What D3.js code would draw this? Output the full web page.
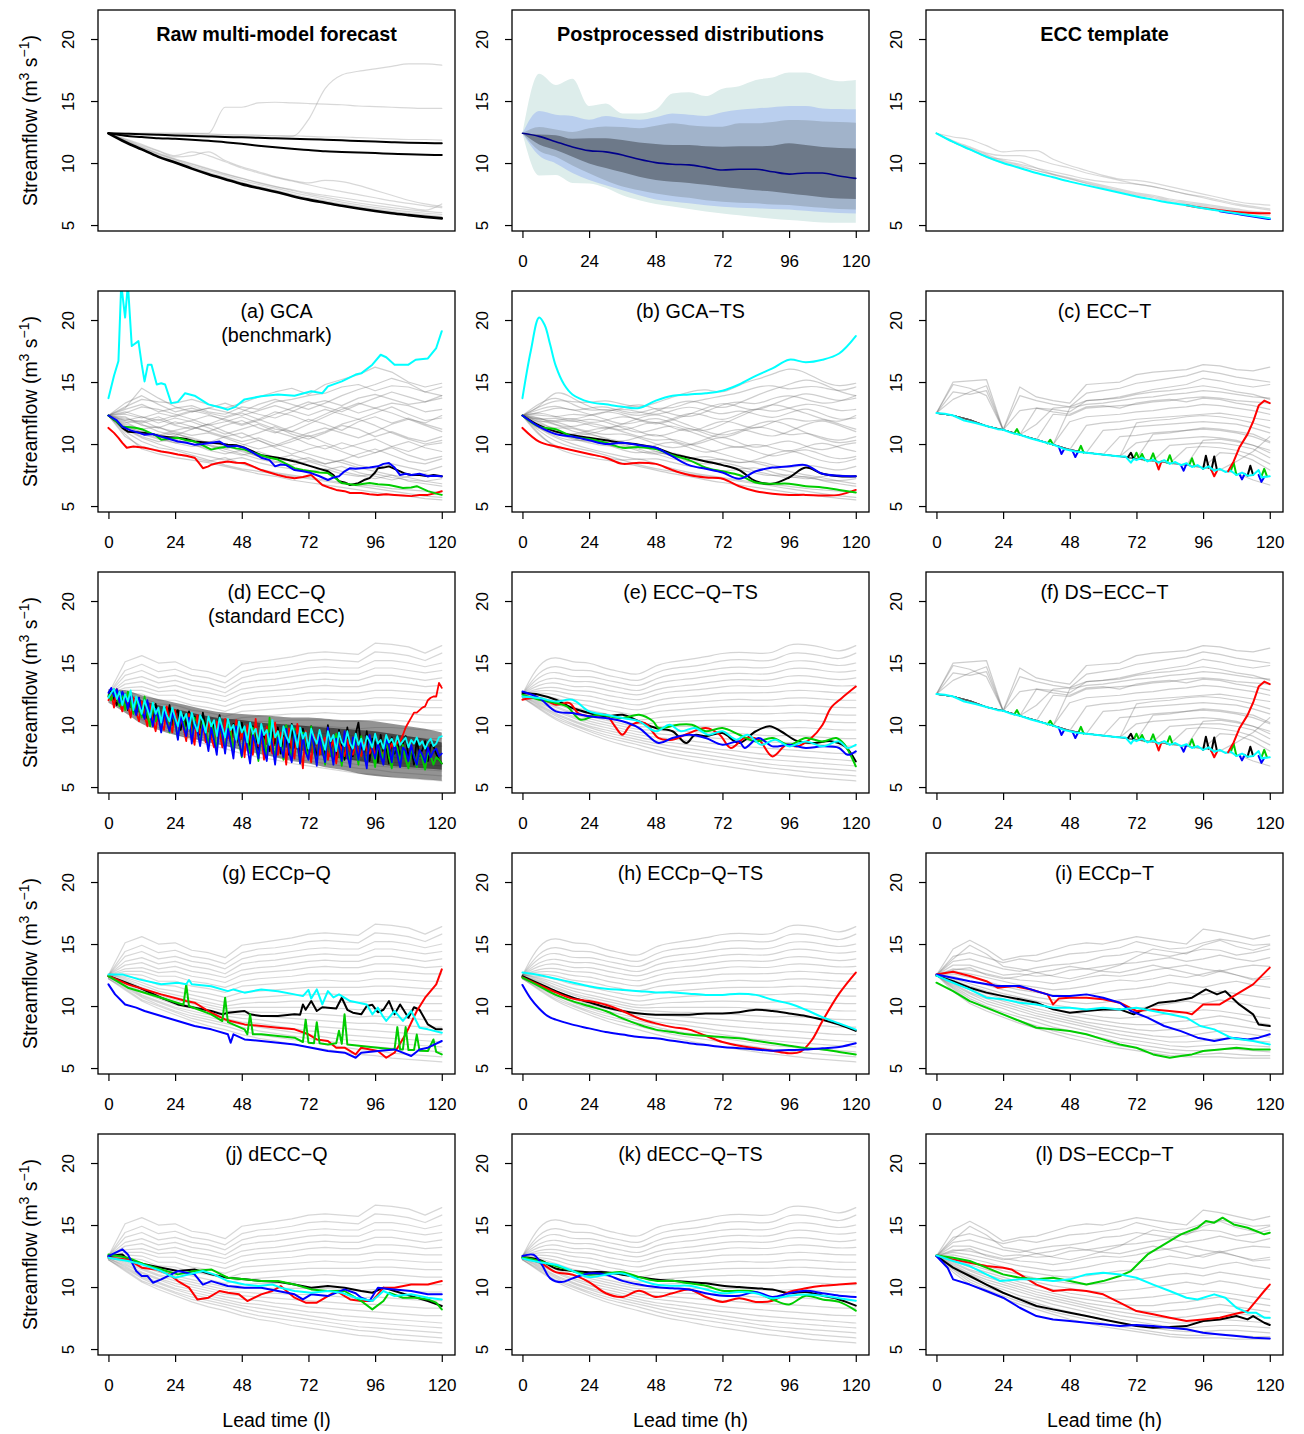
<!DOCTYPE html>
<html>
<head>
<meta charset="utf-8">
<script src="https://cdn.jsdelivr.net/npm/d3@7/dist/d3.min.js"></script>
<style>
html,body{margin:0;padding:0;background:#fff;}
svg text{font-family:"Liberation Sans", Arial, Helvetica, sans-serif;}
</style>
</head>
<body>
<svg id="chart" width="1304" height="1434"></svg>
<script>
// ---------------- lead-time grids & ticks ----------------
const leadTimes6 = [0,6,12,18,24,30,36,42,48,54,60,66,72,78,84,90,96,102,108,114,120];
const leadTimes1 = [0,1,2,3,4,5,6,7,8,9,10,11,12,13,14,15,16,17,18,19,20,21,22,23,24,25,26,27,28,29,30,31,32,33,34,35,36,37,38,39,40,41,42,43,44,45,46,47,48,49,50,51,52,53,54,55,56,57,58,59,60,61,62,63,64,65,66,67,68,69,70,71,72,73,74,75,76,77,78,79,80,81,82,83,84,85,86,87,88,89,90,91,92,93,94,95,96,97,98,99,100,101,102,103,104,105,106,107,108,109,110,111,112,113,114,115,116,117,118,119,120];
const xTickValues = [0,24,48,72,96,120];
const yTickValues = [5,10,15,20];

// ---------------- Raw multi-model forecast ----------------
const rawBlack = [
 [12.4,12.37,12.33,12.28,12.22,12.18,12.14,12.1,12.07,12.03,12.0,11.96,11.92,11.88,11.83,11.78,11.73,11.68,11.64,11.61,11.59],
 [12.4,12.2,12.1,12.0,11.95,11.88,11.8,11.68,11.55,11.4,11.27,11.15,11.05,10.95,10.9,10.85,10.8,10.75,10.7,10.67,10.65],
 [12.4,11.7,11.1,10.5,10.05,9.55,9.1,8.7,8.3,7.98,7.68,7.35,7.05,6.8,6.55,6.33,6.13,5.95,5.8,5.66,5.54]
];
const rawGray = [
 [12.4,12.4,12.4,12.4,12.4,12.4,12.35,12.3,12.3,12.25,12.2,12.2,12.15,12.1,12.1,12.05,12.0,11.95,11.9,11.9,11.85],
 [12.4,12.35,12.3,12.3,12.3,12.3,12.25,12.25,12.2,12.2,12.2,12.15,13.5,16.0,17.1,17.4,17.6,17.8,18.0,18.0,17.9],
 [12.4,12.4,12.4,12.4,12.4,12.4,12.4,14.5,14.5,14.85,14.9,14.85,14.8,14.75,14.7,14.6,14.55,14.5,14.45,14.4,14.4],
 [12.4,11.75,11.15,10.6,10.15,9.7,9.25,8.85,8.45,8.12,7.82,7.5,7.2,6.95,6.7,6.48,6.28,6.1,5.95,5.82,5.7],
 [12.4,11.8,11.2,10.7,10.25,9.8,9.4,9.0,8.6,8.28,7.98,7.66,7.36,7.1,6.85,6.62,6.42,6.24,6.08,5.95,5.85],
 [12.4,11.85,11.3,10.8,10.35,9.95,9.55,9.15,8.78,8.44,8.12,7.8,7.5,7.25,7.0,6.78,6.58,6.4,6.24,6.1,6.0],
 [12.4,11.9,11.4,10.95,10.5,10.6,10.9,10.2,9.7,9.3,8.9,8.6,8.4,8.6,8.5,8.2,7.8,7.4,7.0,6.7,6.5],
 [12.4,11.95,11.5,11.0,10.6,10.9,10.6,10.1,9.6,9.2,8.85,8.55,8.25,7.95,7.7,7.45,7.2,6.95,6.75,6.55,6.4],
 [12.4,11.8,11.25,10.75,10.3,9.9,9.5,9.1,8.75,8.4,8.1,7.85,7.6,7.4,7.2,7.0,6.8,6.6,6.4,6.2,6.7],
 [12.4,11.72,11.12,10.55,10.1,9.62,9.18,8.78,8.38,8.05,7.75,7.42,7.12,6.87,6.62,6.4,6.2,6.02,5.87,5.74,5.62]
];

// ---------------- Postprocessed distributions (quantile bands) ----------------
const ppOuterHi = [12.4,17.2,16.3,16.8,14.6,14.8,14.0,14.0,14.3,15.6,15.7,15.4,16.0,16.2,16.7,16.9,17.3,17.3,16.9,16.6,16.7];
const ppBlueHi  = [12.4,14.2,13.9,13.8,13.5,13.8,13.6,13.5,13.7,14.0,13.9,13.8,14.1,14.3,14.4,14.5,14.6,14.6,14.4,14.35,14.33];
const ppSlateHi = [12.4,12.9,12.7,12.5,12.8,12.95,12.9,12.8,13.0,13.2,13.05,12.95,12.93,13.2,13.2,13.3,13.47,13.45,13.35,13.3,13.25];
const ppDarkHi  = [12.4,12.3,12.25,11.95,12.0,12.0,11.85,11.65,11.53,11.45,11.45,11.35,11.32,11.35,11.35,11.4,11.59,11.45,11.3,11.22,11.18];
const ppMedian  = [12.4,12.15,11.72,11.3,11.0,10.9,10.65,10.3,10.03,9.9,9.85,9.65,9.44,9.5,9.5,9.3,9.11,9.2,9.2,8.95,8.76];
const ppDarkLo  = [12.4,11.5,11.05,10.5,9.97,9.6,9.25,8.9,8.63,8.5,8.4,8.25,8.09,7.95,7.8,7.7,7.55,7.4,7.25,7.15,7.1];
const ppSlateLo = [12.4,11.0,10.51,9.8,9.17,8.6,8.1,7.8,7.55,7.35,7.2,7.0,6.88,6.8,6.75,6.65,6.61,6.5,6.4,6.3,6.26];
const ppBlueLo  = [12.4,10.6,9.97,9.2,8.63,8.2,7.8,7.4,7.07,6.9,6.75,6.6,6.48,6.4,6.35,6.3,6.26,6.15,6.05,5.98,5.94];
const ppOuterLo = [12.4,9.0,9.03,8.4,8.36,8.0,7.4,7.0,6.69,6.5,6.3,6.1,5.94,5.8,5.65,5.5,5.4,5.3,5.2,5.18,5.19];

// ---------------- ECC template ----------------
const templateGray = [
 [12.4,12.1,11.9,11.4,10.9,11.0,11.0,10.3,9.8,9.4,9.0,8.7,8.6,8.4,8.1,7.8,7.5,7.2,6.9,6.7,6.6],
 [12.4,11.8,11.3,10.8,10.6,10.6,10.3,9.9,9.6,9.2,8.9,8.6,8.3,8.1,7.8,7.5,7.3,7.0,6.7,6.5,6.3],
 [12.4,11.7,11.2,10.7,10.2,9.9,9.6,9.3,9.0,8.7,8.5,8.4,8.3,8.1,7.8,7.5,7.2,6.9,6.6,6.4,6.2],
 [12.4,11.7,11.1,10.6,10.1,9.8,9.4,9.1,8.8,8.5,8.2,7.9,7.6,7.4,7.1,6.9,6.7,6.5,6.3,6.1,6.0],
 [12.4,11.7,11.1,10.5,10.0,9.7,9.4,9.05,8.7,8.4,8.1,7.8,7.5,7.3,7.0,6.8,6.6,6.4,6.2,6.0,5.9],
 [12.4,11.7,11.1,10.5,10.3,10.1,9.6,9.1,8.75,8.35,8.0,7.7,7.4,7.2,6.9,6.7,6.5,6.3,6.1,5.9,5.75]
];
const templateCyan = [12.4,11.7,11.1,10.5,10.0,9.6,9.2,8.85,8.5,8.2,7.9,7.6,7.3,7.05,6.8,6.6,6.35,6.15,5.95,5.75,5.55];
const templateRedEnd = [[90,6.6],[96,6.38],[102,6.2],[108,6.05],[114,5.98],[120,5.95]];
const templateBlueEnd = [[102,6.12],[108,5.9],[114,5.68],[120,5.48]];

// ---------------- (a) GCA / (b) GCA-TS ----------------
const gcaGray = [
 [12.3,13.0,13.6,13.4,13.3,13.6,13.2,12.9,13.3,13.8,14.2,14.5,14.0,14.8,15.2,15.6,16.2,15.8,15.0,14.6,14.9],
 [12.3,12.8,13.2,12.6,12.9,13.1,12.6,12.4,13.0,12.8,13.4,13.6,13.9,14.1,14.6,14.8,14.3,14.7,14.6,14.2,14.6],
 [12.3,12.4,12.1,12.5,12.2,12.6,12.9,13.3,12.8,12.4,12.1,12.6,13.2,13.5,13.1,13.7,14.0,13.6,13.2,13.4,13.9],
 [12.3,12.0,11.8,12.2,11.6,11.9,12.3,12.0,11.6,12.0,12.6,12.3,11.8,12.4,13.0,12.5,12.9,13.3,13.1,12.6,12.8],
 [12.3,12.2,11.5,11.3,11.8,11.4,11.0,11.5,11.9,11.3,10.9,11.4,12.0,11.6,11.1,11.8,12.2,11.7,12.1,11.6,11.2],
 [12.3,11.9,11.6,11.0,10.7,11.2,11.6,11.0,10.5,10.9,11.4,10.8,10.4,10.9,11.5,11.2,10.6,11.0,10.5,10.2,10.6],
 [12.3,11.6,11.2,11.4,10.8,10.5,10.1,10.6,10.9,10.3,9.8,10.2,10.7,10.1,9.6,10.0,10.4,9.8,9.4,9.9,10.1],
 [12.3,11.8,11.1,10.6,10.9,10.4,10.0,9.6,9.9,10.3,9.7,9.2,9.6,9.9,9.4,8.9,9.3,9.7,9.1,8.7,9.0],
 [12.3,11.4,10.8,10.4,10.1,9.8,9.9,9.4,9.1,9.4,8.9,8.6,8.9,8.4,8.7,8.3,8.0,8.4,8.1,7.8,8.2],
 [12.3,11.2,10.5,10.0,9.6,9.3,9.0,8.7,8.9,8.5,8.2,8.0,7.8,8.0,7.6,7.4,7.6,7.3,7.1,7.0,7.2],
 [12.3,11.0,10.2,9.7,9.5,9.1,8.7,8.3,8.0,7.8,7.6,7.4,7.2,7.0,6.8,6.7,6.6,6.4,6.3,6.2,6.1],
 [12.3,10.8,9.6,9.2,8.9,8.7,8.5,8.2,7.9,7.6,7.4,7.1,6.9,6.7,6.5,6.3,6.1,5.9,5.8,5.6,5.5],
 [12.3,12.5,13.0,12.8,12.4,12.0,11.5,11.8,12.2,11.7,11.2,11.0,11.6,12.2,12.8,13.3,12.9,12.5,12.0,11.7,12.3],
 [12.3,11.7,11.9,11.3,11.0,10.7,10.9,10.5,10.0,9.6,9.9,10.4,10.9,11.3,10.9,10.5,11.0,11.6,12.0,11.5,11.0],
 [12.3,12.6,12.2,11.9,12.3,12.7,12.4,11.9,11.5,11.9,12.4,12.9,13.4,13.0,12.6,13.2,13.7,14.2,13.8,13.4,13.7],
 [12.3,11.5,10.9,10.8,10.3,10.0,9.6,9.9,9.4,9.0,8.8,9.1,8.7,8.4,8.7,9.2,9.6,9.1,8.6,8.4,8.8],
 [12.3,13.3,13.9,13.2,12.6,12.9,12.5,12.2,12.6,13.2,13.6,13.2,12.8,13.3,13.9,14.4,14.8,15.3,14.9,14.2,13.9],
 [12.3,11.3,10.6,10.2,10.4,10.0,9.5,9.2,9.5,9.0,8.6,8.3,8.6,8.2,7.8,7.5,7.2,7.5,7.0,6.8,6.6],
 [12.3,12.1,11.7,12.0,11.5,11.2,11.6,12.1,12.5,12.0,11.5,11.0,10.6,11.0,11.6,12.0,11.5,10.9,10.4,10.0,10.3],
 [12.3,11.9,12.2,11.7,12.1,11.8,11.3,10.8,11.2,11.6,11.0,10.6,10.0,9.6,10.1,9.7,9.3,9.8,10.2,9.7,9.4],
 [12.3,10.6,9.8,9.5,9.2,8.9,8.6,8.9,8.4,8.0,7.7,7.5,7.3,7.1,6.9,6.6,6.4,6.2,6.0,5.8,5.7],
 [12.3,11.4,11.0,10.7,11.1,11.4,11.0,10.6,10.2,10.5,10.0,9.6,9.2,8.8,8.5,8.1,7.8,7.5,7.3,7.0,6.8],
 [12.3,12.9,14.5,13.7,13.0,12.6,12.9,12.6,12.3,12.7,13.1,12.7,12.3,12.8,12.4,12.0,12.5,13.0,12.4,11.9,12.1],
 [12.3,11.1,10.9,10.5,10.1,10.3,9.9,9.6,9.2,8.8,8.5,8.8,8.3,7.9,8.2,7.7,7.4,7.1,7.4,7.6,7.3]
];
const gcaCyan = [[0,13.7],[2,15.5],[3.6,16.7],[4.6,22.9],[6,20.2],[7,22.9],[8.4,17.9],[10.8,18.3],[12,16.4],[13,15.05],[14.2,16.4],[15.5,16.4],[17.4,14.8],[19,14.9],[20.4,14.8],[22.6,13.3],[25,13.4],[27.6,14.1],[31,13.9],[36,13.2],[41,12.9],[43,12.77],[45.7,13.0],[49,13.6],[55,13.85],[61,14.0],[67,13.9],[73,14.25],[77,14.1],[79,14.65],[84,15.05],[89,15.6],[91,15.7],[95,16.4],[98,17.2],[100,17.0],[103,16.4],[108,16.4],[110.6,16.8],[115,16.9],[118,17.74],[120,19.1]];
const gcaBlack = [[0,12.3],[3,11.8],[5,11.3],[7,11.0],[10,10.95],[13,10.9],[16,10.8],[19,10.6],[22,10.55],[25,10.5],[28,10.4],[31,10.2],[34,10.15],[37,10.1],[40,10.05],[43,9.95],[46,9.9],[49,9.7],[52,9.4],[55,9.1],[58,9.0],[61,8.9],[64,8.75],[67,8.6],[70,8.4],[73,8.2],[76,8.0],[79,7.8],[81,7.5],[83,7.0],[85,6.9],[87,6.7],[90,6.85],[92,7.1],[94,7.25],[96,7.7],[97,8.05],[99,8.1],[101,8.2],[103,8.0],[105,7.8],[107,7.6],[109,7.5],[112,7.5],[115,7.4],[117,7.5],[120,7.4]];
const gcaBlue = [[0,12.3],[3,11.9],[5,11.4],[8,11.1],[11,10.9],[13,10.75],[16,10.8],[19,10.6],[22,10.4],[25,10.2],[28,10.1],[31,9.95],[34,10.0],[37,10.1],[40,10.2],[43,9.8],[46,9.85],[49,9.7],[52,9.3],[55,8.9],[58,8.7],[60,8.2],[62,8.35],[64,8.3],[67,7.9],[70,7.8],[73,7.66],[76,7.4],[79,7.1],[81,7.3],[83,7.4],[85,7.8],[87,8.05],[89,8.0],[91,8.05],[94,8.1],[97,8.2],[99,8.4],[101,8.47],[103,8.1],[105,7.5],[107,7.6],[109,7.5],[112,7.6],[115,7.4],[117,7.45],[120,7.4]];
const gcaGreen = [[0,12.3],[3,11.8],[5,11.4],[8,11.35],[10,11.3],[12,11.2],[14,11.0],[17,10.7],[19,10.35],[22,10.45],[25,10.5],[28,10.3],[31,10.2],[34,9.9],[37,9.55],[40,9.7],[43,9.8],[46,9.65],[49,9.55],[52,9.3],[55,9.1],[58,8.9],[61,8.75],[64,8.4],[67,8.05],[70,7.9],[73,7.8],[76,7.7],[79,7.66],[82,7.2],[84,6.85],[87,6.75],[89,6.7],[92,6.8],[94,6.85],[97,6.75],[101,6.7],[104,6.55],[106,6.45],[109,6.5],[111,6.6],[113,6.4],[115,6.2],[118,6.0],[120,5.9]];
const gcaRed = [[0,11.3],[2,10.9],[3.6,10.5],[5,10.1],[6.6,9.7],[9,9.8],[13,9.7],[16,9.55],[19,9.4],[22,9.3],[25,9.15],[28,9.05],[31,8.9],[32.5,8.5],[34,8.05],[36,8.2],[37,8.33],[40,8.5],[43,8.6],[46,8.5],[49,8.47],[52,8.2],[55,7.9],[58,7.7],[61,7.5],[64,7.35],[67,7.25],[70,7.35],[73,7.5],[75,7.1],[77,6.7],[80,6.45],[82,6.3],[85,6.2],[87,6.05],[91,6.05],[94,5.95],[97,5.9],[100,5.95],[103,5.9],[106,5.85],[109,5.8],[112,5.9],[115,5.9],[118,6.05],[120,6.2]];

const gcaTsCyan = [[0,13.7],[3,17.5],[6,20.2],[8,19.6],[10,18.0],[12,16.3],[15,14.8],[18,14.0],[24,13.4],[30,13.2],[36,13.0],[42,12.9],[48,13.5],[54,13.9],[60,14.0],[66,14.1],[72,14.3],[78,14.8],[84,15.5],[90,16.1],[96,16.8],[102,16.6],[108,16.8],[114,17.3],[120,18.7]];
const gcaTsBlack = [[0,12.3],[6,11.5],[12,11.0],[18,10.7],[24,10.5],[30,10.3],[36,10.1],[42,9.95],[48,9.7],[54,9.2],[60,8.9],[66,8.6],[72,8.3],[78,7.9],[84,7.0],[90,6.8],[96,7.3],[102,8.1],[108,7.6],[114,7.4],[120,7.4]];
const gcaTsBlue = [[0,12.3],[6,11.4],[12,10.8],[18,10.6],[24,10.3],[30,10.0],[36,10.1],[42,9.9],[48,9.7],[54,9.0],[60,8.3],[66,8.0],[72,7.7],[78,7.2],[84,7.8],[90,8.1],[96,8.2],[102,8.3],[108,7.6],[114,7.45],[120,7.4]];
const gcaTsGreen = [[0,12.3],[6,11.4],[12,11.2],[18,10.6],[24,10.4],[30,10.1],[36,9.7],[42,9.75],[48,9.6],[54,9.1],[60,8.7],[66,8.1],[72,7.8],[78,7.5],[84,6.9],[90,6.8],[96,6.8],[102,6.6],[108,6.5],[114,6.3],[120,6.1]];
const gcaTsRed = [[0,11.3],[6,10.2],[12,9.8],[18,9.5],[24,9.2],[30,8.9],[36,8.4],[42,8.5],[48,8.4],[54,7.9],[60,7.5],[66,7.3],[72,7.2],[78,6.6],[84,6.2],[90,6.0],[96,5.9],[102,5.9],[108,5.85],[114,5.9],[120,6.3]];

// ---------------- (c) ECC-T / (f) DS-ECC-T ----------------
const eccTGray = [
 [12.5,15.0,15.1,15.2,11.15,14.6,13.8,13.5,13.3,14.8,14.9,15.0,15.6,15.8,15.9,16.0,16.4,16.3,16.0,15.9,16.2],
 [12.5,14.2,14.0,14.3,11.15,13.9,13.5,13.2,13.0,14.1,14.3,14.5,14.9,15.1,15.3,15.5,15.9,15.7,15.4,15.2,15.0],
 [12.5,14.8,14.5,13.9,11.15,10.75,12.9,12.8,12.6,13.5,13.6,13.7,14.0,14.2,14.3,14.5,14.7,14.5,14.2,14.0,13.6],
 [12.5,12.3,11.95,11.45,11.15,10.75,10.35,12.4,12.3,12.9,13.0,13.1,13.2,13.4,13.5,13.7,13.8,13.7,13.5,13.4,13.3],
 [12.5,12.3,11.95,11.45,11.15,10.75,10.35,9.95,11.8,12.2,12.3,12.4,12.6,12.7,12.9,13.0,13.2,13.1,12.9,12.7,12.4],
 [12.5,12.3,11.95,11.45,11.15,10.75,10.35,9.95,9.55,11.5,11.7,11.8,12.0,12.1,12.2,12.3,12.4,12.5,12.3,12.1,11.9],
 [12.5,12.3,11.95,11.45,11.15,10.75,10.35,9.95,9.55,9.3,11.1,11.2,11.4,11.5,11.6,11.7,11.8,11.7,11.6,11.3,10.9],
 [12.5,12.3,11.95,11.45,11.15,10.75,10.35,9.95,9.55,9.3,9.15,10.6,10.7,10.9,11.0,11.1,11.2,11.1,10.9,10.6,10.1],
 [12.5,12.3,11.95,11.45,11.15,10.75,10.35,9.95,9.55,9.3,9.15,9.0,10.1,10.3,10.4,10.5,10.6,10.5,10.3,9.9,9.3],
 [12.5,12.3,11.95,11.45,11.15,10.75,10.35,9.95,9.55,9.3,9.15,9.0,8.8,8.65,9.9,10.0,10.1,10.1,9.9,9.6,8.9],
 [12.5,12.3,11.95,11.45,11.15,10.75,10.35,9.95,9.55,9.3,9.15,9.0,8.8,8.65,8.45,9.7,9.8,9.7,9.5,9.1,8.4],
 [12.5,12.3,11.95,11.45,11.15,10.75,10.35,9.95,9.55,9.3,9.15,9.0,8.8,8.65,8.45,8.3,8.1,9.3,9.2,8.7,7.9],
 [12.5,12.3,11.95,11.45,11.15,10.75,10.35,9.95,9.55,9.3,9.15,9.0,8.8,8.65,8.45,8.3,8.1,7.9,7.65,7.1,6.7],
 [12.5,12.3,11.95,11.45,11.15,10.75,10.35,9.95,9.55,9.3,9.15,9.0,8.8,8.65,8.45,8.3,8.1,7.9,8.6,9.4,10.6],
 [12.5,12.3,11.95,11.45,11.15,10.75,11.6,12.9,13.0,13.5,13.6,13.8,14.1,14.4,14.6,14.8,15.3,15.1,14.8,14.6,14.8],
 [12.5,13.6,14.2,14.7,11.15,10.75,10.35,9.95,12.9,13.2,13.3,13.5,13.7,13.8,14.0,14.1,14.3,14.2,14.0,13.8,13.7],
 [12.5,12.3,11.95,11.45,11.15,12.7,12.9,12.6,12.4,13.0,13.1,12.9,13.3,13.5,13.6,13.4,13.7,13.6,13.3,13.1,12.8],
 [12.5,12.3,11.95,11.45,11.15,10.75,10.35,9.95,9.55,9.3,9.15,9.0,11.7,11.9,12.0,12.2,12.3,12.2,12.0,11.7,11.3],
 [12.5,12.3,11.95,11.45,11.15,10.75,10.35,9.95,9.55,9.3,9.15,9.0,8.8,10.8,10.9,11.1,11.3,11.2,11.0,10.8,10.2],
 [12.5,12.3,11.95,11.45,11.15,10.75,10.35,9.95,9.55,9.3,9.15,9.0,8.8,8.65,8.45,8.3,10.3,10.4,10.2,9.9,9.5]
];
const eccTBase = [[0,12.5],[3,12.45],[6,12.3],[10,11.9],[14,11.7],[18,11.45],[22,11.2],[24,11.15],[27,10.9],[30,10.75],[34,10.45],[38,10.2],[42,9.95],[46,9.6],[50,9.4],[54,9.3],[58,9.2],[62,9.1],[66,9.0],[68,9.0],[70,8.5],[71,8.8],[72,8.7],[74,8.9],[76,8.6],[78,8.75],[80,8.5],[82,8.7],[84,8.4],[86,8.55],[88,8.3],[90,8.45],[92,8.15],[94,8.3],[96,8.0],[98,8.2],[100,7.85],[102,8.0],[104,7.75],[106,7.85],[108,7.5],[110,7.7],[112,7.45],[114,7.5],[116,7.9],[117,7.3],[118,7.35],[120,7.4]];
const eccTGreenSpikes = [[[28,10.85],[29,11.2],[30,10.75]],[[40,10.05],[41,10.35],[42,9.95]],[[51,9.35],[52,9.85],[53,9.3]],[[71,8.8],[72,9.3],[73,8.8]],[[73,8.8],[74,9.2],[75,8.7]],[[77,8.7],[78,9.25],[79,8.6]],[[83,8.5],[84,9.1],[85,8.45]],[[91,8.3],[92,8.85],[93,8.2]],[[106,7.85],[107,8.5],[108,7.5]],[[117,7.4],[118,8.0],[119,7.4]]];
const eccTBlueSpikes = [[[44,9.8],[45,9.2],[46,9.6]],[[49,9.45],[50,8.95],[51,9.4]],[[88,8.3],[89,7.85],[90,8.4]],[[109,7.6],[110,7.15],[111,7.6]],[[116,7.5],[117,6.95],[118,7.35]]];
const eccTBlackSpikes = [[[69,8.95],[70,9.3],[71,8.8]],[[96,8.0],[97,9.05],[98,8.1]],[[99,7.9],[100,9.0],[101,7.9]],[[112,7.45],[113,8.25],[114,7.5]]];
const eccTRedParts = [[[79,8.6],[80,7.95],[81,8.6]],[[99,7.9],[100,7.4],[101,7.85]],[[105,7.8],[107,8.6],[109,9.7],[112,10.8],[114,11.8],[116,13.1],[118,13.5],[120,13.3]]];

// ---------------- ECC-Q family gray members ----------------
const eccQGray = [
 [12.5,15.1,15.6,15.0,15.1,14.5,14.3,13.9,14.9,15.1,15.3,15.5,15.8,15.9,15.8,15.7,16.6,16.5,16.3,15.8,16.4],
 [12.5,14.4,14.9,14.3,14.5,14.0,13.8,13.4,14.3,14.6,14.7,14.9,15.2,15.3,15.2,15.1,15.9,15.8,15.6,15.2,15.8],
 [12.5,14.0,14.4,13.8,14.0,13.6,13.4,13.0,13.8,14.1,14.2,14.4,14.6,14.7,14.6,14.6,15.2,15.2,15.0,14.7,15.0],
 [12.5,13.6,13.9,13.4,13.6,13.2,13.0,12.6,13.4,13.6,13.7,13.9,14.1,14.2,14.1,14.1,14.6,14.6,14.4,14.2,14.4],
 [12.5,13.3,13.5,13.0,13.2,12.8,12.6,12.3,12.9,13.1,13.2,13.4,13.6,13.7,13.6,13.6,14.0,14.0,13.8,13.6,13.8],
 [12.5,13.0,13.1,12.7,12.8,12.4,12.2,11.9,12.5,12.7,12.8,12.9,13.1,13.2,13.1,13.1,13.4,13.4,13.3,13.1,13.2],
 [12.5,12.8,12.8,12.4,12.4,12.0,11.8,11.5,12.0,12.2,12.3,12.4,12.6,12.6,12.6,12.6,12.8,12.8,12.7,12.6,12.6],
 [12.5,12.6,12.5,12.0,12.0,11.6,11.4,11.1,11.6,11.7,11.8,11.9,12.0,12.1,12.0,12.0,12.2,12.2,12.1,12.0,12.0],
 [12.5,12.4,12.2,11.7,11.6,11.2,11.0,10.7,11.1,11.2,11.3,11.4,11.5,11.5,11.5,11.5,11.6,11.6,11.5,11.4,11.4],
 [12.5,12.3,11.9,11.4,11.2,10.9,10.6,10.3,10.6,10.7,10.8,10.9,10.9,11.0,10.9,10.9,11.0,11.0,10.9,10.8,10.8],
 [12.5,12.2,11.7,11.2,10.9,10.6,10.3,10.0,10.2,10.3,10.3,10.4,10.4,10.4,10.3,10.3,10.4,10.4,10.3,10.2,10.2],
 [12.4,12.1,11.5,11.0,10.7,10.4,10.1,9.8,9.9,9.9,9.9,9.9,9.9,9.9,9.8,9.7,9.8,9.8,9.7,9.6,9.6],
 [12.4,12.0,11.4,10.9,10.5,10.2,9.9,9.6,9.6,9.5,9.5,9.4,9.4,9.3,9.2,9.1,9.2,9.1,9.0,8.9,8.9],
 [12.4,11.9,11.2,10.7,10.3,10.0,9.7,9.4,9.3,9.2,9.1,9.0,8.9,8.8,8.7,8.6,8.6,8.5,8.4,8.3,8.3],
 [12.3,11.8,11.1,10.6,10.1,9.8,9.5,9.2,9.0,8.9,8.7,8.6,8.4,8.3,8.2,8.1,8.0,7.9,7.8,7.7,7.7],
 [12.3,11.7,10.9,10.4,9.9,9.6,9.3,9.0,8.7,8.6,8.4,8.2,8.0,7.9,7.7,7.6,7.5,7.4,7.3,7.2,7.1],
 [12.3,11.6,10.8,10.3,9.8,9.4,9.1,8.8,8.5,8.3,8.1,7.9,7.7,7.5,7.3,7.2,7.1,7.0,6.9,6.8,6.7],
 [12.2,11.5,10.7,10.1,9.6,9.2,8.9,8.6,8.3,8.0,7.8,7.6,7.4,7.2,7.0,6.8,6.7,6.6,6.5,6.4,6.3],
 [12.2,11.4,10.5,10.0,9.5,9.0,8.7,8.4,8.0,7.7,7.5,7.3,7.1,6.9,6.7,6.5,6.4,6.2,6.1,6.0,5.9],
 [12.2,11.3,10.4,9.8,9.3,8.8,8.4,8.1,7.7,7.4,7.2,6.9,6.7,6.5,6.3,6.1,6.0,5.8,5.7,5.6,5.5]
];
const eccQDenseTop     = [12.9,12.8,12.4,12.1,11.8,11.5,11.2,11.0,10.9,10.8,10.7,10.6,10.6,10.5,10.4,10.4,10.3,10.1,9.9,9.7,9.4];
const eccQDenseBottom  = [11.8,11.0,10.1,9.6,9.2,8.9,8.6,8.3,8.0,7.7,7.4,7.1,6.9,6.6,6.4,6.1,5.9,5.8,5.7,5.6,5.5];
const eccQCoreTop      = [12.6,12.4,12.0,11.6,11.3,11.0,10.7,10.5,10.4,10.2,10.1,10.0,9.9,9.8,9.7,9.6,9.5,9.3,9.1,8.9,8.6];
const eccQCoreBottom   = [12.2,11.6,10.9,10.4,10.0,9.7,9.4,9.1,8.8,8.5,8.3,8.1,7.8,7.5,7.3,7.1,6.9,6.7,6.6,6.5,6.4];

// (d) ECC-Q, hourly values
const eccQBlack = [12.3,12.8,12.1,11.6,12.7,11.9,12.5,11.2,12.6,11.8,10.9, 12.2,11.0,11.9,10.5,11.4,10.2,11.7,10.8,9.9,11.3, 10.4,11.6,10.0,10.9,11.2,9.6,10.8,9.9,11.1,9.4, 10.7,10.1,9.2,11.0,9.8,10.5,8.9,10.3,9.6,10.8, 8.8,9.9,10.4,8.6,10.1,9.3,8.4,10.2,9.0,9.7, 8.3,9.9,9.1,8.0,10.0,8.7,9.6,7.9,9.4,8.5, 9.8,7.7,9.1,8.9,7.6,10.1,8.2,9.2,7.5,9.7, 8.6,7.8,9.9,8.3,7.4,9.5,8.8,7.6,10.0,8.1, 9.0,7.3,9.6,8.4,7.2,9.8,8.0,7.5,9.3,10.2, 8.2,7.6,9.5,7.1,8.9,8.6,7.0,9.2,7.8,8.3, 6.9,9.0,7.7,8.7,7.2,8.5,9.1,7.4,8.2,6.8, 8.8,7.5,8.0,8.7,7.1,8.4,8.3,7.7,7.2,6.9];
const eccQRed = [12.0,12.6,11.4,12.9,11.8,11.1,12.4,11.6,10.6,12.2,11.0, 10.3,11.9,10.8,9.9,11.6,10.4,9.5,11.3,10.1,9.6, 11.5,10.2,9.4,11.2,9.9,10.6,9.8,8.7,10.9,9.5, 8.4,10.8,9.3,10.1,8.6,10.6,9.0,8.2,10.3,9.4, 8.2,10.5,8.9,9.8,7.8,10.4,8.5,9.6,7.4,10.0, 8.8,7.6,10.5,8.3,9.2,7.2,9.9,8.6,7.7,10.2, 7.6,9.4,8.9,6.8,9.7,8.1,7.3,10.1,8.4,6.5, 9.5,8.2,7.0,9.2,8.7,7.6,8.6,9.0,7.2,8.2, 8.8,6.9,8.5,8.1,7.5,8.8,7.9,7.6,8.4,7.8, 7.5,8.6,8.0,7.7,8.3,7.6,8.2,7.9,7.6,8.4, 7.9,8.5,8.0,8.6,8.7,9.2,9.8,10.2,10.6,11.0, 11.0,11.2,11.4,11.5,12.0,12.2,12.3,12.3,13.4,13.0];
const eccQGreen = [12.4,12.0,12.9,12.3,11.5,12.6,11.2,12.7,11.9,10.9,12.0, 11.4,10.6,12.3,10.8,9.9,11.8,10.3,11.1,9.8,11.4, 10.6,9.4,11.1,10.1,8.9,10.9,10.4,9.2,10.5,8.8, 10.6,9.5,8.6,10.4,9.7,8.3,10.2,9.3,7.9,10.5, 9.0,8.2,10.0,9.4,7.9,9.9,8.6,7.4,9.6,8.9, 7.7,9.8,8.4,7.1,9.2,8.8,7.4,10.6,8.1,7.6, 9.5,8.7,7.2,10.0,8.0,7.5,9.7,8.5,6.9,9.4, 8.3,7.3,9.9,7.9,7.0,9.1,8.4,6.8,9.6,7.7, 7.2,9.3,8.1,6.7,9.0,7.8,7.1,8.8,8.3,6.8, 9.1,7.6,6.9,8.7,8.0,6.6,8.5,7.9,7.3,8.8, 7.4,6.5,8.6,8.2,7.0,8.4,7.2,6.5,8.0,7.6, 6.6,7.9,7.3,6.4,7.8,7.5,6.8,7.4,7.2,6.9];
const eccQBlue = [12.6,13.0,12.3,12.9,11.8,12.7,12.2,11.3,12.5,11.6,10.8, 12.2,11.1,10.5,12.0,10.9,9.9,11.3,10.6,9.4,11.2, 10.2,9.5,11.0,10.4,8.8,10.7,9.9,9.1,10.6,8.5, 10.3,9.6,8.3,10.0,9.2,7.9,9.8,8.8,7.6,10.1, 9.3,7.7,9.7,8.6,7.3,9.9,8.8,7.5,9.4,8.2, 6.9,9.2,8.5,7.3,9.6,8.0,7.1,9.3,8.4,6.8, 9.0,8.2,7.4,9.7,7.8,7.0,9.5,8.6,6.9,9.2, 7.8,7.2,9.4,8.3,6.7,9.1,7.9,7.0,9.8,8.1, 6.8,8.9,8.2,7.1,9.5,7.6,6.6,9.0,8.4,7.2, 8.8,7.7,6.5,9.2,8.0,7.3,8.6,7.5,6.8,8.9, 8.3,7.0,8.5,7.6,6.6,8.2,7.9,7.1,8.4,7.4, 6.8,8.0,7.6,7.0,8.2,7.4,7.9,8.1,7.5,7.7];
const eccQCyan = [12.2,12.6,12.9,12.1,12.7,11.6,12.5,11.9,12.8,11.2,12.3, 11.6,10.9,12.0,11.3,10.6,11.8,10.9,11.4,10.2,11.5, 10.8,10.3,11.4,10.6,9.9,11.1,10.4,10.9,9.7,11.0, 10.1,9.5,10.8,10.3,9.4,10.7,9.9,10.4,9.1,10.6, 9.8,9.0,10.5,9.6,10.0,8.8,10.3,9.4,9.9,8.6, 10.2,9.3,9.7,8.5,10.1,9.2,9.6,8.4,10.4,9.0, 9.5,8.3,9.9,9.1,8.6,10.0,9.3,8.2,9.8,8.9, 9.4,8.1,9.7,9.0,8.5,9.6,8.8,8.0,9.5,8.7, 9.2,7.9,9.4,8.6,8.3,9.5,8.5,8.1,9.3,8.4, 8.9,8.0,9.1,8.7,8.2,9.3,8.5,8.8,8.1,9.2, 8.6,8.9,8.3,9.1,8.4,8.7,9.0,8.2,8.8,8.5, 9.0,8.4,8.7,8.1,8.6,8.9,8.3,8.5,9.0,9.1];

// (e) ECC-Q-TS
const eccQTsBlack = [[0,12.58],[6,12.45],[12,12.04],[18,11.37],[24,10.97],[30,10.7],[36,10.83],[42,10.3],[48,9.76],[54,9.5],[59,8.55],[62,9.2],[66,9.1],[72,9.35],[78,8.55],[84,9.5],[89,9.9],[93,9.5],[99,8.7],[105,8.55],[111,8.7],[116,8.3],[120,7.07]];
const eccQTsRed = [[0,12.04],[6,12.18],[12,11.64],[17,11.77],[20,10.97],[25,10.7],[30,10.83],[33,10.0],[36,9.22],[39,10.0],[44,10.16],[49,8.95],[54,8.82],[60,9.35],[66,9.76],[71,9.22],[75,8.15],[80,8.95],[85,8.82],[90,7.47],[95,8.41],[99,8.28],[104,8.95],[108,10.0],[111,11.37],[115,12.18],[120,13.1]];
const eccQTsGreen = [[0,12.45],[6,12.04],[12,11.77],[16,11.5],[21,10.43],[27,10.83],[36,10.56],[42,10.83],[47,10.3],[49,9.76],[56,10.03],[61,10.03],[66,9.5],[72,9.76],[78,9.22],[84,8.68],[90,8.95],[96,8.41],[102,8.95],[108,8.68],[113,8.95],[116,8.41],[120,6.67]];
const eccQTsBlue = [[0,12.71],[6,12.18],[12,11.1],[18,10.97],[24,10.7],[30,10.56],[36,10.3],[42,9.76],[49,8.55],[54,8.95],[60,9.22],[66,8.95],[72,8.41],[78,8.68],[80,8.15],[85,8.95],[90,8.28],[96,8.41],[102,8.15],[108,8.28],[114,8.15],[117,7.6],[120,7.88]];
const eccQTsCyan = [[0,12.31],[6,12.18],[12,11.9],[18,12.04],[24,11.1],[30,10.83],[36,10.56],[42,10.3],[48,9.5],[53,10.03],[57,9.5],[62,9.76],[67,9.22],[72,9.5],[77,8.82],[81,9.22],[86,8.41],[91,8.82],[96,8.28],[102,8.68],[108,8.28],[114,8.68],[117,8.15],[120,8.41]];

// (g) ECCp-Q
const eccpQCyan = [[0,12.55],[5,12.55],[11,12.15],[19,11.75],[25,11.88],[28,11.75],[29,12.1],[30,11.75],[37,11.6],[43,11.2],[45,11.34],[49,11.08],[55,11.34],[61,11.2],[67,10.94],[70,10.8],[72,11.3],[73,10.6],[75,11.34],[77,10.13],[79,11.2],[81,10.7],[83,10.94],[87,10.4],[90,10.27],[93,10.13],[95,9.33],[97,9.87],[99,9.1],[100,8.8],[103,9.6],[106,8.8],[109,9.6],[112,8.25],[115,8.12],[120,7.85]];
const eccpQBlack = [[0,12.42],[5,12.0],[11,11.48],[19,10.67],[25,10.13],[31,9.87],[37,9.6],[41,9.33],[43,9.46],[49,9.6],[51,9.33],[55,9.2],[61,9.2],[67,9.33],[69,9.3],[70,10.13],[71,9.7],[73,10.4],[75,9.6],[77,9.9],[79,9.87],[82,9.8],[84,10.67],[86,9.7],[88,9.46],[91,9.33],[93,10.0],[95,10.1],[97,9.5],[99,9.7],[101,10.4],[103,9.33],[105,10.13],[108,9.06],[110,9.9],[112,9.7],[115,8.52],[118,8.12],[120,8.12]];
const eccpQRed = [[0,12.42],[7,11.75],[19,10.94],[28,10.4],[31,10.27],[37,9.46],[42,8.92],[44,8.8],[49,8.52],[55,8.39],[61,8.25],[67,8.12],[72,7.72],[75,7.31],[79,7.18],[82,6.64],[85,6.64],[89,6.1],[91,6.64],[97,6.37],[100,5.83],[103,6.24],[107,7.72],[111,9.6],[114,10.67],[118,11.75],[120,12.96]];
const eccpQGreen = [[0,12.42],[7,11.48],[19,10.67],[27,10.1],[28,11.75],[29,10.0],[37,9.33],[41,8.79],[42,10.67],[43,8.7],[49,8.12],[50,7.72],[51,9.33],[52,7.72],[55,7.72],[67,7.45],[70,7.1],[71,8.9],[72,7.04],[74,7.0],[75,8.7],[76,7.0],[79,6.9],[82,7.0],[83,8.0],[84,6.95],[85,9.33],[86,6.9],[91,6.77],[97,6.64],[103,6.5],[104,8.3],[105,6.5],[106,6.5],[107,8.3],[108,6.45],[110,6.45],[111,7.7],[112,6.4],[115,6.37],[117,7.3],[118,6.3],[120,6.1]];
const eccpQBlue = [[0,11.75],[2.4,10.94],[6,10.13],[10,9.87],[13,9.6],[19,9.2],[25,8.79],[31,8.39],[37,8.12],[43,7.72],[44,7.04],[45,7.72],[49,7.31],[55,7.18],[61,7.04],[67,6.9],[73,6.64],[79,6.37],[85,6.24],[89,5.83],[91,6.24],[97,6.37],[103,6.5],[109,5.97],[112,6.5],[115,6.64],[120,7.18]];

// (h) ECCp-Q-TS
const eccpQTsCyan = [[0,12.7],[6,12.5],[12,12.2],[18,11.9],[24,11.6],[30,11.4],[36,11.3],[42,11.2],[48,11.1],[54,11.1],[60,11.0],[66,10.9],[72,10.9],[78,11.0],[84,10.9],[90,10.5],[96,10.2],[102,9.7],[108,9.1],[114,8.6],[120,8.1]];
const eccpQTsBlack = [[0,12.4],[6,11.8],[12,11.2],[18,10.7],[24,10.3],[30,9.9],[36,9.6],[42,9.4],[48,9.3],[54,9.3],[60,9.3],[66,9.4],[72,9.4],[78,9.5],[84,9.7],[90,9.6],[96,9.4],[102,9.2],[108,8.9],[114,8.5],[120,8.0]];
const eccpQTsRed = [[0,12.3],[6,11.7],[12,11.1],[18,10.6],[24,10.4],[30,10.1],[36,9.6],[42,9.0],[48,8.6],[54,8.3],[60,8.1],[66,7.6],[72,7.1],[78,6.8],[84,6.6],[90,6.4],[96,6.2],[100,6.3],[104,7.2],[108,8.8],[114,11.0],[120,12.7]];
const eccpQTsGreen = [[0,12.3],[6,11.6],[12,10.9],[18,10.4],[24,10.0],[30,9.6],[36,9.0],[42,8.5],[48,8.1],[54,7.9],[60,7.7],[66,7.6],[72,7.5],[78,7.4],[84,7.2],[90,7.0],[96,6.8],[102,6.6],[108,6.5],[114,6.3],[120,6.1]];
const eccpQTsBlue = [[0,11.7],[3,10.6],[6,9.8],[9,9.2],[12,8.9],[18,8.5],[24,8.2],[30,7.9],[36,7.7],[42,7.5],[48,7.4],[54,7.2],[60,7.0],[66,6.85],[72,6.7],[78,6.6],[84,6.5],[90,6.4],[96,6.45],[102,6.5],[108,6.6],[114,6.7],[120,7.0]];

// ---------------- (i) ECCp-T / (l) DS-ECCp-T ----------------
const eccpTGray = [
 [12.5,14.6,15.3,14.6,13.7,14.0,14.1,14.5,14.9,15.1,15.0,15.3,15.6,15.4,15.2,15.0,16.2,16.0,15.7,15.4,15.7],
 [12.5,14.0,14.3,13.9,13.5,13.8,13.6,13.9,14.2,14.3,14.5,14.7,15.2,14.9,14.6,14.7,15.1,15.4,15.2,14.9,15.0],
 [12.5,13.6,13.8,13.4,13.0,12.8,13.1,13.3,13.4,13.6,14.0,14.1,14.4,14.2,14.0,14.3,14.6,14.5,14.1,14.3,14.6],
 [12.5,13.3,13.3,12.9,12.5,12.6,12.4,12.5,12.9,13.0,13.2,13.4,13.5,13.7,13.9,13.6,13.8,14.1,13.8,13.6,13.9],
 [12.5,13.0,12.9,12.6,12.3,12.1,12.0,11.8,12.0,12.3,12.5,12.4,12.6,12.9,13.1,13.3,13.0,12.8,13.1,13.3,13.2],
 [12.5,12.8,12.6,12.3,12.0,11.7,11.5,11.3,11.4,11.6,11.9,12.1,12.0,12.2,12.5,12.3,12.6,12.9,12.5,12.2,12.4],
 [12.5,12.6,12.3,12.0,11.6,11.3,11.1,10.9,10.8,10.9,11.1,11.3,11.4,11.6,11.9,11.7,11.5,11.8,12.0,11.7,11.5],
 [12.5,12.4,12.0,11.7,11.3,11.0,10.7,10.5,10.3,10.2,10.3,10.5,10.6,10.8,11.0,11.1,10.9,11.2,11.0,10.8,10.6],
 [12.5,12.2,11.8,11.4,11.0,10.7,10.4,10.1,9.9,9.7,9.6,9.7,9.8,10.0,10.2,10.4,10.2,10.5,10.3,10.0,9.8],
 [12.5,12.1,11.6,11.2,10.8,10.4,10.1,9.8,9.5,9.3,9.1,9.0,9.1,9.2,9.4,9.5,9.7,9.6,9.4,9.2,9.0],
 [12.5,12.0,11.4,11.0,10.6,10.2,9.8,9.5,9.2,9.0,8.8,8.6,8.5,8.5,8.7,8.8,9.0,9.2,9.0,8.7,8.5],
 [12.5,11.9,11.3,10.8,10.4,10.0,9.6,9.3,9.0,8.7,8.5,8.3,8.1,8.0,8.1,8.2,8.4,8.6,8.4,8.2,8.0],
 [12.5,11.8,11.1,10.6,10.2,9.8,9.4,9.1,8.8,8.5,8.2,8.0,7.8,7.6,7.5,7.6,7.8,8.0,7.9,7.7,7.5],
 [12.5,11.7,11.0,10.4,10.0,9.6,9.2,8.9,8.6,8.3,8.0,7.7,7.5,7.3,7.1,7.1,7.2,7.4,7.3,7.2,7.1],
 [12.5,11.6,10.8,10.2,9.8,9.3,9.0,8.6,8.3,8.0,7.7,7.4,7.2,7.0,6.8,6.7,6.8,6.9,6.9,6.8,6.7],
 [12.5,11.5,10.6,10.0,9.5,9.1,8.7,8.3,8.0,7.7,7.4,7.1,6.9,6.7,6.5,6.4,6.4,6.5,6.5,6.4,6.3],
 [12.5,11.4,10.4,9.8,9.3,8.8,8.4,8.0,7.7,7.4,7.1,6.8,6.6,6.4,6.2,6.1,6.1,6.2,6.1,6.0,6.0],
 [12.5,11.2,10.2,9.6,9.1,8.6,8.2,7.8,7.4,7.1,6.8,6.6,6.4,6.2,6.0,5.9,5.9,5.9,5.8,5.8,5.8],
 [12.5,13.8,14.9,14.2,13.2,13.0,12.7,12.4,12.2,12.5,12.9,13.3,14.0,14.6,14.4,14.2,14.9,15.3,14.8,14.5,14.9],
 [12.5,12.9,13.1,12.5,12.2,12.4,12.7,12.9,13.2,13.0,12.8,12.7,13.0,13.3,13.0,12.7,12.4,12.8,12.5,12.1,12.2]
];
const eccpTRed = [[0,12.55],[6,12.77],[12,12.42],[18,12.0],[22,11.48],[28,11.61],[34,11.34],[40,10.94],[42,10.13],[44,10.6],[48,10.67],[54,10.67],[60,10.54],[66,10.27],[72,9.6],[78,9.73],[84,9.6],[90,9.46],[92,9.33],[96,10.13],[102,10.13],[108,10.94],[114,11.75],[120,13.1]];
const eccpTBlue = [[0,12.55],[12,12.0],[22,11.61],[30,11.61],[36,11.2],[42,10.8],[48,10.8],[54,10.94],[60,10.67],[66,10.27],[70,9.6],[76,9.06],[82,8.39],[88,7.98],[94,7.45],[100,7.18],[106,7.45],[112,7.31],[116,7.45],[120,7.72]];
const eccpTBlack = [[0,12.45],[6,12.0],[12,11.48],[18,11.08],[24,10.8],[30,10.54],[36,10.27],[42,9.73],[48,9.46],[54,9.6],[60,9.73],[66,9.73],[71,9.33],[76,9.87],[80,10.27],[86,10.4],[92,10.67],[97,11.34],[101,10.94],[104,11.2],[109,10.13],[114,9.33],[116,8.52],[120,8.39]];
const eccpTCyan = [[0,12.45],[6,11.88],[12,11.34],[18,10.67],[24,10.54],[30,10.27],[36,10.13],[42,9.87],[48,9.87],[54,9.73],[60,9.87],[66,9.73],[72,9.87],[78,9.6],[84,9.33],[90,9.06],[95,8.39],[100,8.12],[106,7.45],[110,7.31],[114,7.18],[120,6.9]];
const eccpTGreen = [[0,11.88],[6,11.2],[12,10.4],[18,9.87],[24,9.33],[30,8.79],[36,8.25],[42,8.12],[48,7.98],[54,7.72],[60,7.31],[66,6.9],[72,6.64],[78,6.1],[84,5.83],[88,5.97],[92,6.1],[96,6.37],[102,6.5],[108,6.64],[114,6.5],[120,6.5]];

const dsEccpTGreen = [[0,12.55],[6,12.37],[12,12.1],[18,11.56],[24,11.02],[30,10.75],[36,10.62],[42,10.75],[48,10.48],[54,10.2],[60,10.48],[66,10.89],[70,11.29],[76,12.63],[82,13.44],[88,14.25],[94,14.78],[97,15.32],[100,15.19],[103,15.59],[107,15.05],[112,14.78],[115,14.52],[118,14.25],[120,14.38]];
const dsEccpTCyan = [[0,12.55],[6,12.1],[12,11.69],[18,11.02],[23,10.48],[30,10.62],[36,10.62],[42,10.48],[48,10.62],[54,11.02],[60,11.16],[66,11.02],[72,10.75],[78,10.2],[84,9.68],[90,9.14],[94,9.0],[100,9.41],[104,9.14],[108,8.33],[112,7.93],[115,7.93],[118,7.53],[120,7.53]];
const dsEccpTRed = [[0,12.55],[6,12.23],[12,11.96],[18,11.69],[24,11.56],[27,11.42],[30,11.02],[36,10.2],[42,9.68],[48,9.81],[54,9.68],[60,9.41],[66,8.74],[72,8.06],[78,7.8],[84,7.53],[90,7.26],[96,7.39],[102,7.53],[107,7.8],[112,8.06],[115,8.87],[118,9.68],[120,10.2]];
const dsEccpTBlack = [[0,12.5],[6,11.56],[12,10.89],[18,10.2],[24,9.54],[30,9.0],[36,8.47],[42,8.2],[48,7.93],[54,7.66],[60,7.39],[66,7.12],[72,6.85],[78,6.72],[84,6.77],[90,6.85],[96,7.26],[102,7.39],[108,7.66],[112,7.39],[114,7.66],[118,7.12],[120,6.94]];
const dsEccpTBlue = [[0,12.5],[4,11.56],[6,10.62],[12,10.2],[18,9.68],[24,9.14],[30,8.33],[36,7.66],[42,7.39],[48,7.26],[54,7.12],[60,6.99],[66,6.85],[72,6.94],[78,6.85],[84,6.72],[90,6.59],[96,6.32],[102,6.18],[108,6.05],[114,5.91],[120,5.86]];

// ---------------- (j) dECC-Q / (k) dECC-Q-TS ----------------
const deccQBlack = [[0,12.5],[5,12.63],[7,12.23],[13,11.83],[19,11.56],[25,11.29],[31,11.42],[37,11.02],[43,10.75],[49,10.62],[55,10.48],[61,10.43],[67,10.2],[73,9.95],[79,10.08],[85,9.95],[91,9.68],[95,9.54],[99,9.95],[103,9.68],[109,9.27],[115,8.87],[120,8.47]];
const deccQBlue = [[0,12.5],[5,13.04],[7,12.63],[10,11.29],[12,10.89],[14,10.9],[16,10.35],[19,10.62],[25,11.29],[31,11.02],[34,10.2],[37,10.48],[43,10.08],[49,9.95],[55,9.95],[61,9.68],[67,9.41],[70,9.0],[73,9.41],[79,9.27],[85,9.81],[89,9.5],[91,9.14],[94,8.87],[97,9.95],[103,9.81],[109,9.68],[115,9.41],[120,9.41]];
const deccQRed = [[0,12.37],[7,12.23],[12,11.56],[17,11.42],[22,11.02],[25,10.48],[29,9.95],[32,9.0],[36,9.14],[40,9.68],[43,9.54],[47,9.41],[50,8.87],[55,9.41],[59,9.68],[62,10.08],[67,9.14],[71,8.74],[75,8.74],[79,9.27],[82,9.68],[87,9.0],[91,8.87],[95,8.87],[99,9.95],[103,9.95],[109,10.2],[115,10.2],[120,10.48]];
const deccQGreen = [[0,12.63],[7,12.37],[13,11.83],[19,11.42],[25,11.02],[31,11.29],[37,11.42],[43,10.75],[49,10.62],[55,10.48],[61,10.48],[67,10.2],[73,9.81],[79,9.68],[85,9.68],[91,8.87],[95,8.2],[99,8.87],[101,9.54],[106,9.14],[111,9.14],[115,9.0],[118,8.74],[120,8.2]];
const deccQCyan = [[0,12.37],[7,12.1],[12,11.83],[19,11.29],[24,10.75],[29,11.02],[34,11.29],[38,11.02],[43,10.48],[49,10.2],[54,10.08],[59,10.2],[62,9.95],[67,9.68],[73,9.54],[79,9.68],[84,9.54],[89,9.14],[95,8.87],[99,9.68],[103,9.27],[109,9.41],[115,9.14],[120,9.0]];

const deccQTsBlack = [[0,12.4],[6,12.2],[12,11.5],[18,11.3],[24,11.2],[30,11.2],[36,11.0],[42,10.8],[48,10.6],[54,10.5],[60,10.4],[66,10.3],[72,10.1],[78,10.0],[84,9.9],[90,9.8],[96,9.5],[102,9.6],[108,9.3],[114,9.0],[120,8.5]];
const deccQTsRed = [[0,12.3],[6,12.0],[12,11.2],[18,11.0],[24,10.4],[30,9.5],[36,9.2],[42,9.7],[48,9.2],[54,9.5],[60,9.8],[66,9.2],[72,8.8],[78,9.1],[84,8.8],[90,8.9],[96,9.6],[102,9.9],[108,10.1],[114,10.2],[120,10.3]];
const deccQTsBlue = [[0,12.5],[4,12.6],[7,11.8],[10,10.7],[14,10.4],[18,10.7],[24,11.1],[30,11.0],[36,10.5],[42,10.2],[48,10.0],[54,9.9],[60,9.8],[66,9.5],[72,9.3],[78,9.3],[84,9.6],[90,9.2],[96,9.5],[102,9.7],[108,9.5],[114,9.3],[120,9.2]];
const deccQTsGreen = [[0,12.4],[6,12.1],[12,11.7],[18,11.3],[24,11.0],[30,11.1],[36,11.2],[42,10.8],[48,10.5],[54,10.5],[60,10.3],[66,10.1],[72,9.7],[78,9.7],[84,9.6],[90,9.0],[96,8.6],[102,9.3],[108,9.0],[114,8.8],[120,8.1]];
const deccQTsCyan = [[0,12.3],[6,12.0],[12,11.8],[18,11.3],[24,10.8],[30,11.0],[36,11.1],[42,10.6],[48,10.2],[54,10.1],[60,10.1],[66,9.8],[72,9.5],[78,9.6],[84,9.5],[90,9.1],[96,9.3],[102,9.4],[108,9.3],[114,9.1],[120,8.9]];

// ---------------- styles ----------------
const lineColors = {black:"#000000", red:"#FF0000", green:"#00CD00", blue:"#0000FF", cyan:"#00FFFF"};
const bandColors = {outer:"#DDEDEB", blue:"#BACFEE", slate:"#A1B3CA", dark:"#6D7989", median:"#00008B"};

// ---------------- layout ----------------
const svg = d3.select("#chart");
const W = 357, H = 221;
const colLeft = [98, 512, 926];
const rowTop = [10, 291, 572, 853, 1134];
const xDomain = [-3.76, 124.76];
const yDomain = [4.52, 22.34];

function pointsOf(series, grid) {
  return Array.isArray(series[0]) ? series : series.map((v, i) => [grid[i], v]);
}
function setupPanel(col, row) {
  const left = colLeft[col], top = rowTop[row];
  const x = d3.scaleLinear().domain(xDomain).range([left, left + W]);
  const y = d3.scaleLinear().domain(yDomain).range([top + H, top]);
  const id = "clip" + col + "_" + row;
  svg.append("clipPath").attr("id", id).append("rect")
    .attr("x", left).attr("y", top).attr("width", W).attr("height", H);
  const inner = svg.append("g").attr("clip-path", `url(#${id})`);
  return {col, row, left, top, x, y, inner};
}
function drawLine(P, pts, color, width, opacity, curve) {
  const gen = d3.line().x(d => P.x(d[0])).y(d => P.y(d[1])).curve(curve || d3.curveLinear);
  P.inner.append("path").attr("d", gen(pts)).attr("fill", "none")
    .attr("stroke", color).attr("stroke-width", width).attr("stroke-opacity", opacity)
    .attr("stroke-linejoin", "round").attr("stroke-linecap", "round");
}
function drawGray(P, members, grid, curve, color, opacity, width) {
  members.forEach(m => drawLine(P, pointsOf(m, grid), color || "#707070", width || 1.2, opacity == null ? 0.3 : opacity, curve));
}
function drawColored(P, list, grid, curve, width) {
  list.forEach(([name, series]) => drawLine(P, pointsOf(series, grid), lineColors[name], width || 2, 1, curve));
}
function drawBand(P, lo, hi, grid, fill, opacity) {
  const area = d3.area().x((d, i) => P.x(grid[i])).y0((d, i) => P.y(lo[i])).y1((d, i) => P.y(hi[i])).curve(d3.curveMonotoneX);
  P.inner.append("path").attr("d", area(lo)).attr("fill", fill).attr("fill-opacity", opacity == null ? 1 : opacity).attr("stroke", "none");
}
function finishPanel(P, opts) {
  svg.append("rect").attr("x", P.left).attr("y", P.top).attr("width", W).attr("height", H)
    .attr("fill", "none").attr("stroke", "#000").attr("stroke-width", 1.3);
  const ya = svg.append("g").attr("transform", `translate(${P.left},0)`)
    .call(d3.axisLeft(P.y).tickValues(yTickValues).tickSize(7).tickFormat(d3.format("d")));
  ya.select(".domain").remove();
  ya.selectAll("line").attr("stroke", "#000").attr("stroke-width", 1.2);
  ya.selectAll("text").attr("transform", "rotate(-90)").attr("x", 0).attr("y", -30)
    .attr("dy", "0.35em").attr("text-anchor", "middle")
    .style("font-size", "17px").attr("fill", "#000");
  if (opts.xAxis) {
    const xa = svg.append("g").attr("transform", `translate(0,${P.top + H})`)
      .call(d3.axisBottom(P.x).tickValues(xTickValues).tickSize(7).tickPadding(17));
    xa.select(".domain").remove();
    xa.selectAll("line").attr("stroke", "#000").attr("stroke-width", 1.2);
    xa.selectAll("text").style("font-size", "17px").attr("fill", "#000");
  }
  const cx = P.left + W / 2;
  if (opts.bold) {
    svg.append("text").attr("x", cx).attr("y", P.top + 24).attr("dy", "0.35em")
      .attr("text-anchor", "middle").style("font-size", "19.8px").style("font-weight", "bold")
      .text(opts.title[0]);
  } else {
    opts.title.forEach((t, i) => {
      svg.append("text").attr("x", cx).attr("y", P.top + 20 + i * 24).attr("dy", "0.35em")
        .attr("text-anchor", "middle").style("font-size", "19.7px").text(t);
    });
  }
  if (P.col === 0) {
    const t = svg.append("text")
      .attr("transform", `translate(${P.left - 61},${P.top + H / 2}) rotate(-90)`)
      .attr("text-anchor", "middle").style("font-size", "19.5px");
    t.append("tspan").text("Streamflow (m");
    t.append("tspan").attr("dy", -8).style("font-size", "14px").text("3");
    t.append("tspan").attr("dy", 8).text(" s");
    t.append("tspan").attr("dy", -8).style("font-size", "14px").text("\u22121");
    t.append("tspan").attr("dy", 8).text(")");
  }
  if (P.row === 4) {
    svg.append("text").attr("x", cx).attr("y", P.top + H + 65).attr("dy", "0.35em")
      .attr("text-anchor", "middle").style("font-size", "19.5px").text(opts.xTitle);
  }
}

// ---------------- Row 1 ----------------
{
  const P = setupPanel(0, 0);
  drawGray(P, rawGray, leadTimes6, d3.curveMonotoneX, "#909090", 0.35, 1.2);
  drawLine(P, pointsOf(rawBlack[0], leadTimes6), "#000", 2, 1, d3.curveMonotoneX);
  drawLine(P, pointsOf(rawBlack[1], leadTimes6), "#000", 2, 1, d3.curveMonotoneX);
  drawLine(P, pointsOf(rawBlack[2], leadTimes6), "#000", 2.6, 1, d3.curveMonotoneX);
  finishPanel(P, {title:["Raw multi-model forecast"], bold:true, xAxis:false});
}
{
  const P = setupPanel(1, 0);
  drawBand(P, ppOuterLo, ppOuterHi, leadTimes6, bandColors.outer);
  drawBand(P, ppBlueLo, ppBlueHi, leadTimes6, bandColors.blue);
  drawBand(P, ppSlateLo, ppSlateHi, leadTimes6, bandColors.slate);
  drawBand(P, ppDarkLo, ppDarkHi, leadTimes6, bandColors.dark);
  drawLine(P, pointsOf(ppMedian, leadTimes6), bandColors.median, 1.6, 1, d3.curveMonotoneX);
  finishPanel(P, {title:["Postprocessed distributions"], bold:true, xAxis:true});
}
{
  const P = setupPanel(2, 0);
  drawGray(P, templateGray, leadTimes6, d3.curveMonotoneX, "#909090", 0.35, 1.2);
  drawLine(P, templateRedEnd, lineColors.red, 2, 1, d3.curveMonotoneX);
  drawLine(P, templateBlueEnd, lineColors.blue, 2, 1, d3.curveMonotoneX);
  drawLine(P, pointsOf(templateCyan, leadTimes6), lineColors.cyan, 2, 1, d3.curveMonotoneX);
  finishPanel(P, {title:["ECC template"], bold:true, xAxis:false});
}

// ---------------- Row 2 ----------------
{
  const P = setupPanel(0, 1);
  drawGray(P, gcaGray, leadTimes6, d3.curveLinear, "#6a6a6a", 0.33);
  drawColored(P, [["black",gcaBlack],["red",gcaRed],["green",gcaGreen],["blue",gcaBlue],["cyan",gcaCyan]], null, d3.curveLinear);
  finishPanel(P, {title:["(a) GCA","(benchmark)"], xAxis:true});
}
{
  const P = setupPanel(1, 1);
  drawGray(P, gcaGray, leadTimes6, d3.curveBasis, "#6a6a6a", 0.33);
  drawColored(P, [["black",gcaTsBlack],["red",gcaTsRed],["green",gcaTsGreen],["blue",gcaTsBlue],["cyan",gcaTsCyan]], null, d3.curveCatmullRom);
  finishPanel(P, {title:["(b) GCA\u2212TS"], xAxis:true});
}
function drawEccT(P) {
  drawGray(P, eccTGray, leadTimes6, d3.curveLinear, "#5a5a5a", 0.3, 1.2);
  eccTGreenSpikes.forEach(s => drawLine(P, s, lineColors.green, 2, 1));
  eccTBlueSpikes.forEach(s => drawLine(P, s, lineColors.blue, 2, 1));
  eccTBlackSpikes.forEach(s => drawLine(P, s, lineColors.black, 2, 1));
  eccTRedParts.slice(0, 2).forEach(s => drawLine(P, s, lineColors.red, 2, 1));
  drawLine(P, eccTBase, lineColors.cyan, 2, 1);
  drawLine(P, eccTRedParts[2], lineColors.red, 2, 1);
}
{
  const P = setupPanel(2, 1);
  drawEccT(P);
  finishPanel(P, {title:["(c) ECC\u2212T"], xAxis:true});
}

// ---------------- Row 3 ----------------
{
  const P = setupPanel(0, 2);
  drawGray(P, eccQGray, leadTimes6, d3.curveLinear, "#707070", 0.28);
  drawBand(P, eccQDenseBottom, eccQDenseTop, leadTimes6, "#3a3a3a", 0.55);
  drawBand(P, eccQCoreBottom, eccQCoreTop, leadTimes6, "#0a0a0a", 0.55);
  drawColored(P, [["black",eccQBlack],["red",eccQRed],["green",eccQGreen],["blue",eccQBlue],["cyan",eccQCyan]], leadTimes1, d3.curveLinear, 1.8);
  finishPanel(P, {title:["(d) ECC\u2212Q","(standard ECC)"], xAxis:true});
}
{
  const P = setupPanel(1, 2);
  drawGray(P, eccQGray, leadTimes6, d3.curveBasis, "#707070", 0.3);
  drawColored(P, [["black",eccQTsBlack],["red",eccQTsRed],["green",eccQTsGreen],["blue",eccQTsBlue],["cyan",eccQTsCyan]], null, d3.curveCatmullRom);
  finishPanel(P, {title:["(e) ECC\u2212Q\u2212TS"], xAxis:true});
}
{
  const P = setupPanel(2, 2);
  drawEccT(P);
  finishPanel(P, {title:["(f) DS\u2212ECC\u2212T"], xAxis:true});
}

// ---------------- Row 4 ----------------
{
  const P = setupPanel(0, 3);
  drawGray(P, eccQGray, leadTimes6, d3.curveLinear, "#707070", 0.28);
  drawColored(P, [["black",eccpQBlack],["red",eccpQRed],["green",eccpQGreen],["blue",eccpQBlue],["cyan",eccpQCyan]], null, d3.curveLinear);
  finishPanel(P, {title:["(g) ECCp\u2212Q"], xAxis:true});
}
{
  const P = setupPanel(1, 3);
  drawGray(P, eccQGray, leadTimes6, d3.curveBasis, "#707070", 0.3);
  drawColored(P, [["black",eccpQTsBlack],["red",eccpQTsRed],["green",eccpQTsGreen],["blue",eccpQTsBlue],["cyan",eccpQTsCyan]], null, d3.curveCatmullRom);
  finishPanel(P, {title:["(h) ECCp\u2212Q\u2212TS"], xAxis:true});
}
{
  const P = setupPanel(2, 3);
  drawGray(P, eccpTGray, leadTimes6, d3.curveLinear, "#6a6a6a", 0.32);
  drawColored(P, [["black",eccpTBlack],["red",eccpTRed],["green",eccpTGreen],["blue",eccpTBlue],["cyan",eccpTCyan]], null, d3.curveLinear);
  finishPanel(P, {title:["(i) ECCp\u2212T"], xAxis:true});
}

// ---------------- Row 5 ----------------
{
  const P = setupPanel(0, 4);
  drawGray(P, eccQGray, leadTimes6, d3.curveLinear, "#707070", 0.28);
  drawColored(P, [["black",deccQBlack],["red",deccQRed],["green",deccQGreen],["blue",deccQBlue],["cyan",deccQCyan]], null, d3.curveLinear);
  finishPanel(P, {title:["(j) dECC\u2212Q"], xAxis:true, xTitle:"Lead time (l)"});
}
{
  const P = setupPanel(1, 4);
  drawGray(P, eccQGray, leadTimes6, d3.curveBasis, "#707070", 0.3);
  drawColored(P, [["black",deccQTsBlack],["red",deccQTsRed],["green",deccQTsGreen],["blue",deccQTsBlue],["cyan",deccQTsCyan]], null, d3.curveCatmullRom);
  finishPanel(P, {title:["(k) dECC\u2212Q\u2212TS"], xAxis:true, xTitle:"Lead time (h)"});
}
{
  const P = setupPanel(2, 4);
  drawGray(P, eccpTGray, leadTimes6, d3.curveLinear, "#6a6a6a", 0.32);
  drawColored(P, [["black",dsEccpTBlack],["red",dsEccpTRed],["green",dsEccpTGreen],["blue",dsEccpTBlue],["cyan",dsEccpTCyan]], null, d3.curveLinear);
  finishPanel(P, {title:["(l) DS\u2212ECCp\u2212T"], xAxis:true, xTitle:"Lead time (h)"});
}
</script>
</body>
</html>
